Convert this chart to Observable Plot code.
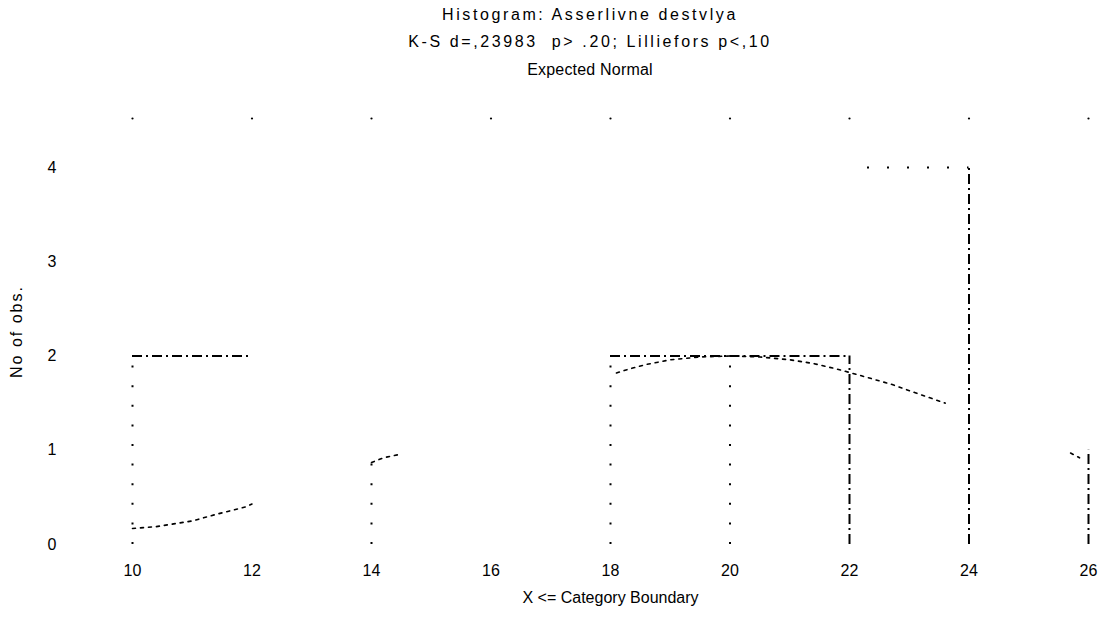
<!DOCTYPE html>
<html>
<head>
<meta charset="utf-8">
<script src="https://cdn.jsdelivr.net/npm/d3@7"></script>
<script src="https://cdn.jsdelivr.net/npm/@observablehq/plot@0.6"></script>
<style>
  html, body { margin: 0; padding: 0; background: #fff; overflow: hidden; }
  body { font-family: "Liberation Sans", Arial, sans-serif; color: #000; }
  #wrap { position: relative; width: 1102px; height: 619px; }
  .t { position: absolute; left: 78px; width: 1024px; text-align: center; font-size: 16px; line-height: 18px; white-space: pre; }
  #chart { position: absolute; left: 0; top: 84px; }
  g[aria-label="y-axis label"] text { letter-spacing: 2px; }
</style>
</head>
<body>
<div id="wrap">
  <div class="t" id="t1" style="top:6px; letter-spacing:2.6px"></div>
  <div class="t" id="t2" style="top:33px; letter-spacing:2.6px"></div>
  <div class="t" id="t3" style="top:61px; letter-spacing:0.2px"></div>
  <div id="chart"></div>
</div>
<script>
// ---- data ----
const titleLines = [
  "Histogram: Asserlivne destvlya",
  "K-S d=,23983  p> .20; Lilliefors p<,10",
  "Expected Normal"
];
const binLo  = [10, 12, 14, 16, 18, 20, 22, 24];
const binHi  = [12, 14, 16, 18, 20, 22, 24, 26];
const counts = [2, 0, 1, 0, 2, 2, 4, 1];

const xTicks = [10, 12, 14, 16, 18, 20, 22, 24, 26];
const xTickLabels = ["10", "12", "14", "16", "18", "20", "22", "24", "26"];
const yTicks = [0, 1, 2, 3, 4];

// expected normal curve (visible pieces only)
const curveX   = [10, 10.4, 11, 11.4, 11.9, 12,   14, 14.2, 14.5,
                  18.1, 18.3, 18.6, 19, 19.5, 20, 20.5, 21, 21.4, 21.8, 22.2, 22.7, 23.1, 23.6,
                  25.7, 25.85];
const curveY   = [0.17, 0.19, 0.25, 0.32, 0.40, 0.43,   0.87, 0.92, 0.96,
                  1.82, 1.86, 1.91, 1.96, 1.99, 2.0, 1.99, 1.96, 1.92, 1.86, 1.79, 1.70, 1.61, 1.50,
                  0.97, 0.92];
const curveSeg = [1, 1, 1, 1, 1, 1,   2, 2, 2,
                  3, 3, 3, 3, 3, 3, 3, 3, 3, 3, 3, 3, 3, 3,
                  4, 4];

const xLabel = "X <= Category Boundary";
const yLabel = "No of obs.";
// --------------------------------------

titleLines.forEach((s, i) => { document.getElementById("t" + (i + 1)).textContent = s; });

const bins = binLo.map((lo, i) => ({lo, hi: binHi[i], n: counts[i]}));
const curve = curveX.map((x, i) => ({x, y: curveY[i], seg: curveSeg[i]}));

const leftEdges  = bins.filter(b => b.n > 0 && b.lo <= 20);
const rightEdges = bins.filter(b => b.n > 0 && b.hi >= 22);
const topsDashDot = bins.filter(b => b.n >= 2 && b.lo < 22);
const topsDotted  = bins.filter(b => b.lo === 22);

const chart = Plot.plot({
  width: 1102,
  height: 535,
  marginTop: 34,
  marginBottom: 75,
  marginLeft: 132,
  marginRight: 14,
  style: {fontFamily: '"Liberation Sans", Arial, sans-serif', fontSize: "16px", color: "#000", background: "#fff"},
  x: {domain: [10, 26]},
  y: {domain: [0, 4.52]},
  marks: [
    Plot.axisX(xTicks, {tickSize: 0, tickPadding: 20, tickFormat: d => xTickLabels[xTicks.indexOf(d)],
      label: xLabel, labelAnchor: "center", labelArrow: "none", labelOffset: 58, fontSize: 16}),
    Plot.axisY(yTicks, {tickSize: 0, tickPadding: 76, tickFormat: d => String(d),
      label: yLabel, labelAnchor: "center", labelArrow: "none", labelOffset: 122, fontSize: 16}),
    Plot.dot(xTicks, {x: d => d, frameAnchor: "top", r: 1.1, fill: "#000", stroke: null}),
    Plot.ruleX(leftEdges, {x: "lo", y1: 0, y2: "n", stroke: "#000", strokeWidth: 2, strokeDasharray: "2,17.6"}),
    Plot.ruleX(rightEdges, {x: "hi", y1: 0, y2: "n", stroke: "#000", strokeWidth: 2, strokeDasharray: "10,4,2,4"}),
    Plot.ruleY(topsDashDot, {y: "n", x1: "lo", x2: "hi", stroke: "#000", strokeWidth: 2, strokeDasharray: "10,4,2,4"}),
    Plot.ruleY(topsDotted, {y: "n", x1: "lo", x2: "hi", stroke: "#000", strokeWidth: 2, strokeDasharray: "2,18", strokeDashoffset: 2}),
    Plot.line(curve, {x: "x", y: "y", z: "seg", stroke: "#000", strokeWidth: 1.6, strokeDasharray: "3,5"})
  ]
});
document.getElementById("chart").appendChild(chart);
</script>
</body>
</html>
